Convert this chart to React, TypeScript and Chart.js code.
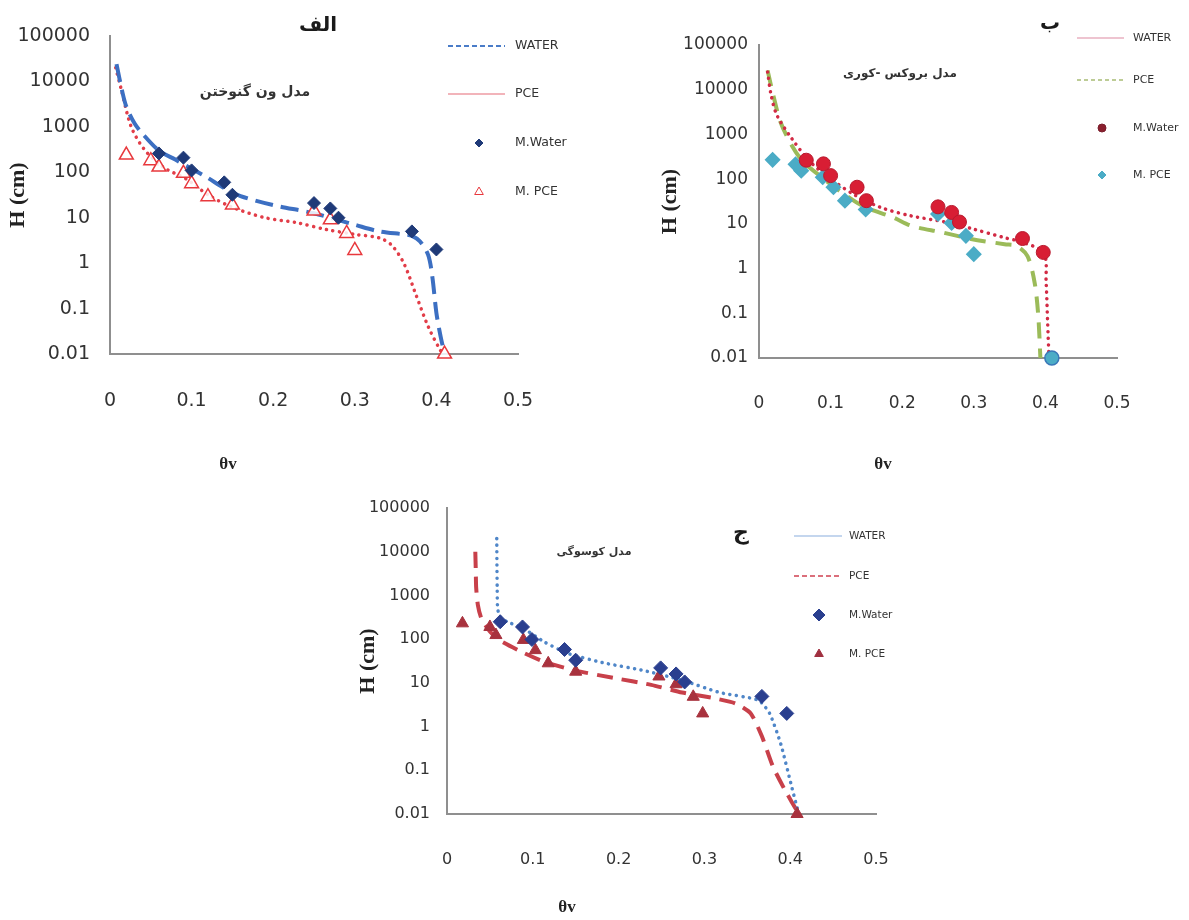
import React, { useEffect, useRef } from 'react';
import { Chart, registerables } from 'chart.js';

Chart.register(...registerables);

// ---------- shared axis / labels ----------
const X_TICKS = [0, 0.1, 0.2, 0.3, 0.4, 0.5];
const X_TICK_LABELS = ['0', '0.1', '0.2', '0.3', '0.4', '0.5'];
const Y_TICKS = [0.01, 0.1, 1, 10, 100, 1000, 10000, 100000];
const Y_TICK_LABELS = ['0.01', '0.1', '1', '10', '100', '1000', '10000', '100000'];
const SERIES_NAMES = ['WATER', 'PCE', 'M.Water', 'M. PCE'];
const Y_TITLE = 'H (cm)';
const X_TITLE = 'θv';

// ---------- Panel الف (van Genuchten) ----------
const A_TITLE = 'الف';
const A_NOTE = 'مدل ون گنوختن';
const A_WATER_THETA = [0.008, 0.015, 0.02, 0.03, 0.04, 0.06, 0.08, 0.1, 0.12, 0.14, 0.16, 0.2, 0.25, 0.3, 0.33, 0.36, 0.37, 0.38, 0.39, 0.395, 0.4, 0.405, 0.41];
const A_WATER_H = [24000, 6000, 2800, 1200, 700, 300, 190, 120, 75, 45, 30, 19, 12.5, 7, 5, 4.3, 4, 3, 1.5, 0.5, 0.08, 0.025, 0.01];
const A_PCE_THETA = [0.007, 0.014, 0.026, 0.042, 0.065, 0.093, 0.12, 0.15, 0.19, 0.23, 0.265, 0.3, 0.33, 0.345, 0.36, 0.375, 0.39, 0.405, 0.41];
const A_PCE_H = [20000, 6500, 1000, 320, 130, 72, 32, 17, 10, 7.7, 5.5, 4.3, 3.6, 2.5, 1, 0.2, 0.04, 0.012, 0.01];
const A_MW_THETA = [0.06, 0.09, 0.1, 0.14, 0.15, 0.25, 0.27, 0.28, 0.37, 0.4];
const A_MW_H = [260, 210, 110, 60, 32, 21, 16, 10, 5, 2];
const A_MP_THETA = [0.02, 0.05, 0.06, 0.09, 0.1, 0.12, 0.15, 0.25, 0.27, 0.29, 0.3, 0.41];
const A_MP_H = [240, 180, 130, 95, 56, 29, 19, 14, 9, 4.5, 1.9, 0.01];

// ---------- Panel ب (Brooks-Corey) ----------
const B_TITLE = 'ب';
const B_NOTE = 'مدل بروکس -کوری';
const B_WATER_THETA = [0.012, 0.017, 0.025, 0.046, 0.072, 0.103, 0.135, 0.171, 0.213, 0.26, 0.3, 0.343, 0.37, 0.398, 0.401, 0.403, 0.405];
const B_WATER_H = [25000, 7500, 2700, 800, 240, 94, 43, 23, 15, 11, 7.6, 4.9, 3.8, 2.2, 0.5, 0.07, 0.01];
const B_PCE_THETA = [0.012, 0.02, 0.03, 0.046, 0.062, 0.082, 0.109, 0.145, 0.187, 0.213, 0.255, 0.296, 0.343, 0.36, 0.375, 0.385, 0.39, 0.393];
const B_PCE_H = [27000, 7500, 1900, 560, 240, 130, 60, 25, 14, 9, 6.5, 4.6, 3.5, 3.2, 1.9, 0.48, 0.09, 0.01];
const B_MW_THETA = [0.066, 0.09, 0.1, 0.137, 0.15, 0.25, 0.269, 0.28, 0.368, 0.397];
const B_MW_H = [265, 220, 120, 66, 33, 24, 18, 11, 4.7, 2.3];
const B_MP_THETA = [0.019, 0.051, 0.059, 0.089, 0.104, 0.12, 0.149, 0.25, 0.269, 0.289, 0.3, 0.409];
const B_MP_H = [270, 214, 155, 110, 66, 33, 21, 16.6, 10.5, 5.4, 2.1, 0.01];

// ---------- Panel ج (Kosugi) ----------
const C_TITLE = 'ج';
const C_NOTE = 'مدل کوسوگی';
const C_WATER_THETA = [0.058, 0.0582, 0.0585, 0.059, 0.062, 0.07, 0.088, 0.114, 0.141, 0.185, 0.23, 0.274, 0.318, 0.363, 0.376, 0.389, 0.402, 0.41];
const C_WATER_H = [20000, 5000, 1500, 500, 320, 250, 180, 85, 47, 28, 19, 11.5, 6, 4, 2, 0.4, 0.04, 0.01];
const C_PCE_THETA = [0.033, 0.0335, 0.034, 0.036, 0.04, 0.05, 0.061, 0.088, 0.114, 0.15, 0.194, 0.238, 0.274, 0.31, 0.336, 0.354, 0.367, 0.38, 0.394, 0.41];
const C_PCE_H = [10000, 4000, 1500, 600, 300, 150, 95, 50, 30, 19, 13, 9, 6, 4.5, 3.4, 2, 0.6, 0.12, 0.035, 0.01];
const C_MW_THETA = [0.062, 0.088, 0.099, 0.137, 0.15, 0.249, 0.267, 0.277, 0.367, 0.396];
const C_MW_H = [250, 190, 98, 58, 33, 22, 16, 10.5, 4.9, 2];
const C_MP_THETA = [0.018, 0.05, 0.057, 0.089, 0.103, 0.118, 0.15, 0.247, 0.267, 0.287, 0.298, 0.408];
const C_MP_H = [230, 190, 124, 96, 56, 28, 18, 14, 9.3, 4.8, 2, 0.01];

const pts = (xs: number[], ys: number[]) => xs.map((x, i) => ({ x, y: ys[i] }));

type Marker = 'rectRot' | 'triangle' | 'circle';
type LegendEntry = {
  kind: 'line' | 'point';
  color: string;
  width?: number;
  dash?: number[];
  marker?: Marker;
  r?: number;
  fill?: string;
};

type PanelSpec = {
  left: number; top: number; w: number; h: number;
  area: { l: number; t: number; r: number; b: number };
  tickFont: number; xPad: number; yPad: number; yTitlePad: number;
  title: { text: string; x: number; y: number; size: number };
  note: { text: string; x: number; y: number; size: number };
  xTitle: { x: number; y: number };
  legend: { x0: number; x1: number; mx: number; tx: number; ys: number[]; font: number; entries: LegendEntry[] };
  datasets: any[];
};

const lineDs = (label: string, xs: number[], ys: number[], color: string, width: number, dash: number[], cap: string, tension: number) => ({
  label,
  data: pts(xs, ys),
  showLine: true,
  pointRadius: 0,
  borderColor: color,
  backgroundColor: color,
  borderWidth: width,
  borderDash: dash,
  borderCapStyle: cap,
  tension,
  fill: false,
  clip: false,
  order: 2,
});

const pointDs = (label: string, xs: number[], ys: number[], style: any, r: any, fill: any, stroke: any, bw: number) => ({
  label,
  data: pts(xs, ys),
  showLine: false,
  pointStyle: style,
  pointRadius: r,
  pointHoverRadius: r,
  pointBackgroundColor: fill,
  pointBorderColor: stroke,
  pointBorderWidth: bw,
  clip: false,
  order: 1,
});

const PANELS: PanelSpec[] = [
  {
    left: 0, top: 0, w: 600, h: 480,
    area: { l: 110, t: 36, r: 518, b: 354 },
    tickFont: 19, xPad: 36, yPad: 20, yTitlePad: 5,
    title: { text: A_TITLE, x: 318, y: 31, size: 20 },
    note: { text: A_NOTE, x: 255, y: 92, size: 14 },
    xTitle: { x: 228, y: 465 },
    legend: {
      x0: 448, x1: 505, mx: 479, tx: 515, ys: [46, 94, 143, 192], font: 12.5,
      entries: [
        { kind: 'line', color: '#4a7cc8', width: 2, dash: [5, 3] },
        { kind: 'line', color: '#f2b4ba', width: 2, dash: [] },
        { kind: 'point', color: '#1f3a78', marker: 'rectRot', r: 4, fill: '#1f3a78' },
        { kind: 'point', color: '#e8383d', marker: 'triangle', r: 5, fill: '#ffffff' },
      ],
    },
    datasets: [
      pointDs(SERIES_NAMES[2], A_MW_THETA, A_MW_H, 'rectRot', 6.5, '#1f3a78', '#1f3a78', 1),
      pointDs(SERIES_NAMES[3], A_MP_THETA, A_MP_H, 'triangle', 8, 'rgba(255,255,255,0.85)', '#e8383d', 1.5),
      lineDs(SERIES_NAMES[0], A_WATER_THETA, A_WATER_H, '#3c6fc2', 4, [18, 8], 'butt', 0.3),
      lineDs(SERIES_NAMES[1], A_PCE_THETA, A_PCE_H, '#e23d48', 3.5, [0.1, 6.5], 'round', 0.3),
    ],
  },
  {
    left: 600, top: 0, w: 589, h: 480,
    area: { l: 159, t: 45, r: 517, b: 358 },
    tickFont: 17, xPad: 35, yPad: 11, yTitlePad: 57,
    title: { text: B_TITLE, x: 450, y: 29, size: 20 },
    note: { text: B_NOTE, x: 300, y: 74, size: 12 },
    xTitle: { x: 283, y: 465 },
    legend: {
      x0: 477, x1: 524, mx: 502, tx: 533, ys: [38, 80, 128, 175], font: 11,
      entries: [
        { kind: 'line', color: '#e8b0c0', width: 1.5, dash: [] },
        { kind: 'line', color: '#a8bc74', width: 1.5, dash: [4, 3] },
        { kind: 'point', color: '#7a1e2c', marker: 'circle', r: 4, fill: '#8a1f2e' },
        { kind: 'point', color: '#4bacc6', marker: 'rectRot', r: 4, fill: '#4bacc6' },
      ],
    },
    datasets: [
      pointDs(SERIES_NAMES[2], B_MW_THETA, B_MW_H, 'circle', 7, '#d81e34', '#b81a2e', 1),
      pointDs(
        SERIES_NAMES[3], B_MP_THETA, B_MP_H,
        B_MP_THETA.map((_, i) => (i === B_MP_THETA.length - 1 ? 'circle' : 'rectRot')),
        7,
        '#4bacc6',
        B_MP_THETA.map((_, i) => (i === B_MP_THETA.length - 1 ? '#3a78b8' : '#4bacc6')),
        1.5,
      ),
      lineDs(SERIES_NAMES[0], B_WATER_THETA, B_WATER_H, '#d22a44', 3.5, [0.1, 6.5], 'round', 0.3),
      lineDs(SERIES_NAMES[1], B_PCE_THETA, B_PCE_H, '#9bbb59', 4, [16, 10], 'butt', 0.3),
    ],
  },
  {
    left: 300, top: 470, w: 640, h: 450,
    area: { l: 147, t: 38, r: 576, b: 344 },
    tickFont: 16, xPad: 36, yPad: 17, yTitlePad: 55,
    title: { text: C_TITLE, x: 441, y: 69, size: 22 },
    note: { text: C_NOTE, x: 294, y: 82, size: 11 },
    xTitle: { x: 267, y: 438 },
    legend: {
      x0: 494, x1: 542, mx: 519, tx: 549, ys: [66, 106, 145, 184], font: 10.5,
      entries: [
        { kind: 'line', color: '#b0c8e8', width: 1.5, dash: [] },
        { kind: 'line', color: '#d04050', width: 1.5, dash: [5, 3] },
        { kind: 'point', color: '#2a3f8f', marker: 'rectRot', r: 6, fill: '#2a3f8f' },
        { kind: 'point', color: '#a03040', marker: 'triangle', r: 5, fill: '#a03040' },
      ],
    },
    datasets: [
      pointDs(SERIES_NAMES[2], C_MW_THETA, C_MW_H, 'rectRot', 7, '#2a3f8f', '#2a3f8f', 1),
      pointDs(SERIES_NAMES[3], C_MP_THETA, C_MP_H, 'triangle', 7, '#a8323e', '#a8323e', 1),
      lineDs(SERIES_NAMES[0], C_WATER_THETA, C_WATER_H, '#4f86c8', 3.5, [0.1, 6.5], 'round', 0.2),
      lineDs(SERIES_NAMES[1], C_PCE_THETA, C_PCE_H, '#c8404a', 4, [16, 9], 'butt', 0.2),
    ],
  },
];

function drawMarker(ctx: CanvasRenderingContext2D, m: Marker, x: number, y: number, r: number, fill: string, stroke: string, bw: number) {
  ctx.beginPath();
  if (m === 'rectRot') {
    ctx.moveTo(x, y - r); ctx.lineTo(x + r, y); ctx.lineTo(x, y + r); ctx.lineTo(x - r, y); ctx.closePath();
  } else if (m === 'triangle') {
    const c = Math.cos(Math.PI / 6) * r;
    ctx.moveTo(x, y - r); ctx.lineTo(x + c, y + r / 2); ctx.lineTo(x - c, y + r / 2); ctx.closePath();
  } else {
    ctx.arc(x, y, r, 0, Math.PI * 2);
  }
  ctx.fillStyle = fill; ctx.fill();
  ctx.lineWidth = bw; ctx.strokeStyle = stroke; ctx.setLineDash([]); ctx.stroke();
}

function makeOverlay(spec: PanelSpec) {
  return {
    id: 'overlay',
    afterDraw(chart: any) {
      const ctx: CanvasRenderingContext2D = chart.ctx;
      ctx.save();
      ctx.textAlign = 'center';
      // panel letter
      ctx.fillStyle = '#1a1a1a';
      ctx.textBaseline = 'alphabetic';
      ctx.font = `bold ${spec.title.size}px "DejaVu Sans", sans-serif`;
      ctx.fillText(spec.title.text, spec.title.x, spec.title.y);
      // model note
      ctx.textBaseline = 'middle';
      ctx.font = `bold ${spec.note.size}px "DejaVu Sans", sans-serif`;
      ctx.fillStyle = '#333';
      ctx.fillText(spec.note.text, spec.note.x, spec.note.y);
      // x title
      ctx.font = 'bold 17px "Liberation Serif", serif';
      ctx.fillStyle = '#222';
      ctx.fillText(X_TITLE, spec.xTitle.x, spec.xTitle.y);
      // legend
      const L = spec.legend;
      L.entries.forEach((e, i) => {
        const y = L.ys[i];
        if (e.kind === 'line') {
          ctx.beginPath();
          ctx.setLineDash(e.dash || []);
          ctx.lineWidth = e.width || 2;
          ctx.strokeStyle = e.color;
          ctx.moveTo(L.x0, y); ctx.lineTo(L.x1, y); ctx.stroke();
          ctx.setLineDash([]);
        } else {
          drawMarker(ctx, e.marker as Marker, L.mx, y, e.r || 4, e.fill || e.color, e.color, 1);
        }
        ctx.font = `${L.font}px "DejaVu Sans", sans-serif`;
        ctx.fillStyle = '#333';
        ctx.textAlign = 'left';
        ctx.textBaseline = 'middle';
        ctx.fillText(SERIES_NAMES[i], L.tx, y);
      });
      ctx.restore();
    },
  };
}

function Panel({ spec }: { spec: PanelSpec }) {
  const ref = useRef<HTMLCanvasElement>(null);
  useEffect(() => {
    if (!ref.current) return;
    const a = spec.area;
    const tickFont = { family: '"DejaVu Sans", sans-serif', size: spec.tickFont };
    const chart = new Chart(ref.current, {
      type: 'scatter',
      data: { datasets: spec.datasets },
      options: {
        responsive: false,
        animation: false,
        devicePixelRatio: 1,
        layout: { padding: { left: 0, top: a.t, right: spec.w - a.r, bottom: 0 } },
        plugins: { legend: { display: false }, tooltip: { enabled: false } },
        scales: {
          x: {
            type: 'linear', position: 'bottom', min: 0, max: 0.5,
            grid: { display: false, drawTicks: false },
            border: { display: true, color: '#8f8f8f', width: 2 },
            ticks: {
              autoSkip: false, maxRotation: 0, padding: spec.xPad, color: '#333', font: tickFont,
              callback: (_v: any, i: number) => X_TICK_LABELS[i],
            },
            afterBuildTicks: (s: any) => { s.ticks = X_TICKS.map((v) => ({ value: v })); },
            afterFit: (s: any) => { s.height = spec.h - a.b; },
          },
          y: {
            type: 'logarithmic', position: 'left', min: 0.01, max: 100000,
            grid: { display: false, drawTicks: false },
            border: { display: true, color: '#8f8f8f', width: 2 },
            ticks: {
              autoSkip: false, padding: spec.yPad, color: '#333', font: tickFont,
              callback: (_v: any, i: number) => Y_TICK_LABELS[i],
            },
            title: {
              display: true, text: Y_TITLE, color: '#222',
              font: { family: '"Liberation Serif", serif', size: 22, weight: 'bold' },
              padding: { top: spec.yTitlePad, bottom: 0 },
            },
            afterBuildTicks: (s: any) => { s.ticks = Y_TICKS.map((v) => ({ value: v })); },
            afterFit: (s: any) => { s.width = a.l; },
          },
        },
      } as any,
      plugins: [makeOverlay(spec)],
    });
    return () => chart.destroy();
  }, [spec]);
  return (
    <canvas
      ref={ref}
      width={spec.w}
      height={spec.h}
      style={{ position: 'absolute', left: spec.left, top: spec.top, width: spec.w, height: spec.h }}
    />
  );
}

export default function App() {
  return (
    <div style={{ position: 'absolute', left: 0, top: 0, width: 1189, height: 920, background: '#fff', overflow: 'hidden' }}>
      {PANELS.map((p, i) => (
        <Panel key={i} spec={p} />
      ))}
    </div>
  );
}
